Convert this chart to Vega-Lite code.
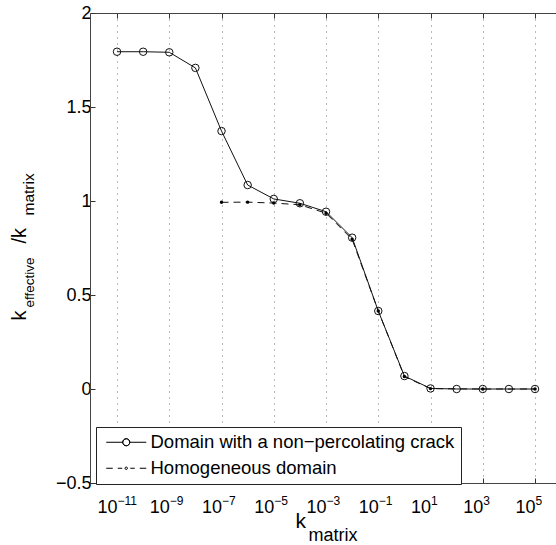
{
  "$schema": "https://vega.github.io/schema/vega-lite/v6.json",
  "width": 466,
  "height": 470,
  "autosize": {"type": "none"},
  "padding": {"left": 90, "top": 13, "right": 0, "bottom": 62},
  "background": "white",
  "config": {"font": "Liberation Sans", "view": {"stroke": null}},
  "datasets": {
    "pts": [
      {"k": 1e-11, "r": 1.794, "series": "Domain with a non−percolating crack"},
      {"k": 1e-10, "r": 1.794, "series": "Domain with a non−percolating crack"},
      {"k": 1e-9, "r": 1.791, "series": "Domain with a non−percolating crack"},
      {"k": 1e-8, "r": 1.708, "series": "Domain with a non−percolating crack"},
      {"k": 1e-7, "r": 1.372, "series": "Domain with a non−percolating crack"},
      {"k": 1e-6, "r": 1.085, "series": "Domain with a non−percolating crack"},
      {"k": 1e-5, "r": 1.011, "series": "Domain with a non−percolating crack"},
      {"k": 1e-4, "r": 0.988, "series": "Domain with a non−percolating crack"},
      {"k": 1e-3, "r": 0.943, "series": "Domain with a non−percolating crack"},
      {"k": 1e-2, "r": 0.805, "series": "Domain with a non−percolating crack"},
      {"k": 1e-1, "r": 0.415, "series": "Domain with a non−percolating crack"},
      {"k": 1, "r": 0.069, "series": "Domain with a non−percolating crack"},
      {"k": 10, "r": 0.003, "series": "Domain with a non−percolating crack"},
      {"k": 100, "r": 0.0, "series": "Domain with a non−percolating crack"},
      {"k": 1000, "r": 0.0, "series": "Domain with a non−percolating crack"},
      {"k": 10000, "r": 0.0, "series": "Domain with a non−percolating crack"},
      {"k": 100000, "r": 0.0, "series": "Domain with a non−percolating crack"},
      {"k": 1e-7, "r": 0.993, "series": "Homogeneous domain"},
      {"k": 1e-6, "r": 0.994, "series": "Homogeneous domain"},
      {"k": 1e-5, "r": 0.989, "series": "Homogeneous domain"},
      {"k": 1e-4, "r": 0.980, "series": "Homogeneous domain"},
      {"k": 1e-3, "r": 0.935, "series": "Homogeneous domain"},
      {"k": 1e-2, "r": 0.796, "series": "Homogeneous domain"},
      {"k": 1e-1, "r": 0.415, "series": "Homogeneous domain"},
      {"k": 1, "r": 0.066, "series": "Homogeneous domain"},
      {"k": 10, "r": 0.002, "series": "Homogeneous domain"},
      {"k": 1000, "r": 0.0, "series": "Homogeneous domain"},
      {"k": 100000, "r": 0.0, "series": "Homogeneous domain"}
    ]
  },
  "data": {"name": "pts"},
  "resolve": {"axis": {"x": "independent", "y": "independent"}},
  "layer": [
    {
      "transform": [{"filter": "datum.series !== 'Homogeneous domain'"}],
      "mark": {"type": "line", "color": "#111", "strokeWidth": 1},
      "encoding": {
        "x": {
          "field": "k", "type": "quantitative",
          "scale": {"type": "log", "domain": [9.24e-13, 6.35e5], "nice": false},
          "axis": {
            "orient": "bottom",
            "values": [1e-11, 1e-9, 1e-7, 1e-5, 1e-3, 1e-1, 10, 1000, 100000],
            "labelExpr": "'10'",
            "labelFontSize": 18, "labelColor": "black",
            "labelAlign": "right", "labelBaseline": "alphabetic",
            "labelPadding": 34, "labelFlush": false, "labelOverlap": false, "labelBound": false,
            "tickSize": -5, "tickColor": "#333", "tickWidth": 1,
            "domainColor": "#444", "domainWidth": 1,
            "grid": true, "gridDash": [1, 5], "gridColor": "#777", "gridWidth": 1, "gridOpacity": 1,
            "title": "k", "titleFontSize": 21, "titleFontWeight": "normal", "titleColor": "black",
            "titleX": 205, "titleY": 44, "titleAlign": "left", "titleBaseline": "alphabetic",
            "encode": {"labels": {"update": {"dx": {"signal": "datum.value < 5e-11 ? 1 : datum.value < 0.5 ? 3.5 : 6.5"}}}}
          }
        },
        "y": {
          "field": "r", "type": "quantitative",
          "scale": {"domain": [-0.5, 2], "nice": false, "zero": false},
          "axis": {
            "orient": "left",
            "values": [-0.5, 0, 0.5, 1, 1.5, 2],
            "format": "~g",
            "labelFontSize": 18, "labelColor": "black", "labelPadding": 4,
            "labelFlush": false, "labelOverlap": false, "labelBound": false,
            "tickSize": -5, "tickColor": "#333",
            "domainColor": "#444", "domainWidth": 1,
            "grid": false,
            "title": "k", "titleFontSize": 20, "titleFontWeight": "normal", "titleColor": "black",
            "titleAngle": -90, "titleX": -65, "titleY": 307, "titleAlign": "left", "titleBaseline": "alphabetic"
          }
        }
      }
    },
    {
      "transform": [{"filter": "datum.series !== 'Homogeneous domain'"}],
      "mark": {"type": "point", "filled": false, "stroke": "#111", "strokeWidth": 1, "size": 56, "opacity": 1},
      "encoding": {
        "x": {
          "field": "k", "type": "quantitative",
          "axis": {
            "orient": "bottom",
            "values": [1e-11, 1e-9, 1e-7, 1e-5, 1e-3, 1e-1, 10, 1000, 100000],
            "labelExpr": "format(round(log(datum.value)/LN10), 'd')",
            "labelFontSize": 12, "labelColor": "black",
            "labelAlign": "left", "labelBaseline": "alphabetic",
            "labelPadding": 21, "labelFlush": false, "labelOverlap": false, "labelBound": false,
            "ticks": false, "domain": false, "grid": false,
            "title": "matrix", "titleFontSize": 18, "titleFontWeight": "normal", "titleColor": "black",
            "titleX": 218, "titleY": 57, "titleAlign": "left", "titleBaseline": "alphabetic",
            "encode": {"labels": {"update": {"dx": {"signal": "datum.value < 5e-11 ? 2 : datum.value < 0.5 ? 4.5 : 7.5"}}}}
          }
        },
        "y": {
          "field": "r", "type": "quantitative",
          "axis": {
            "orient": "left", "labels": false, "ticks": false, "domain": false, "grid": false,
            "title": "effective", "titleFontSize": 13.5, "titleFontWeight": "normal", "titleColor": "black",
            "titleAngle": -90, "titleX": -57, "titleY": 294, "titleAlign": "left", "titleBaseline": "alphabetic"
          }
        }
      }
    },
    {
      "transform": [{"filter": "datum.series === 'Homogeneous domain'"}],
      "mark": {"type": "line", "color": "#111", "strokeWidth": 1, "strokeDash": [7, 5]},
      "encoding": {
        "x": {
          "field": "k", "type": "quantitative",
          "axis": {
            "orient": "top",
            "values": [1e-11, 1e-9, 1e-7, 1e-5, 1e-3, 1e-1, 10, 1000, 100000],
            "labels": false, "tickSize": -5, "tickColor": "#333",
            "domainColor": "#444", "domainWidth": 1, "grid": false, "title": null
          }
        },
        "y": {
          "field": "r", "type": "quantitative",
          "axis": {
            "orient": "left", "labels": false, "ticks": false, "domain": false, "grid": false,
            "title": "/k", "titleFontSize": 20, "titleFontWeight": "normal", "titleColor": "black",
            "titleAngle": -90, "titleX": -65, "titleY": 230, "titleAlign": "left", "titleBaseline": "alphabetic"
          }
        }
      }
    },
    {
      "transform": [{"filter": "datum.series === 'Homogeneous domain'"}],
      "mark": {"type": "point", "filled": true, "color": "#000", "size": 12, "opacity": 1},
      "encoding": {
        "x": {"field": "k", "type": "quantitative", "axis": null},
        "y": {
          "field": "r", "type": "quantitative",
          "axis": {
            "orient": "left", "labels": false, "ticks": false, "domain": false, "grid": false,
            "title": "matrix", "titleFontSize": 15.5, "titleFontWeight": "normal", "titleColor": "black",
            "titleAngle": -90, "titleX": -57, "titleY": 202, "titleAlign": "left", "titleBaseline": "alphabetic"
          }
        }
      }
    },
    {
      "mark": {"type": "point", "opacity": 0},
      "encoding": {
        "x": {"field": "k", "type": "quantitative", "axis": null},
        "y": {"field": "r", "type": "quantitative", "axis": null},
        "shape": {
          "field": "series", "type": "nominal",
          "scale": {
            "domain": ["Domain with a non−percolating crack", "Homogeneous domain"],
            "range": [
              "M-1,0H2.3M3.7,0H7M3.7,0A0.7,0.7,0,1,1,2.3,0A0.7,0.7,0,1,1,3.7,0M3.7,0A0.7,0.7,0,1,0,2.3,0A0.7,0.7,0,1,0,3.7,0",
              "M-1,0H0.3M1.3,0H2.2M3.8,0H4.7M5.7,0H7M3.25,0A0.25,0.25,0,1,1,2.75,0A0.25,0.25,0,1,1,3.25,0"
            ]
          },
          "legend": {
            "title": null, "orient": "none", "legendX": 6, "legendY": 414, "direction": "vertical",
            "symbolSize": 100, "symbolStrokeWidth": 1, "symbolStrokeColor": "black",
            "symbolFillColor": "black", "symbolOpacity": 1, "symbolOffset": 0,
            "labelFontSize": 18.5, "labelColor": "black", "labelOffset": 30, "labelLimit": 500,
            "padding": 6, "rowPadding": 7,
            "strokeColor": "#222", "fillColor": "white", "cornerRadius": 0
          }
        }
      }
    }
  ]
}
